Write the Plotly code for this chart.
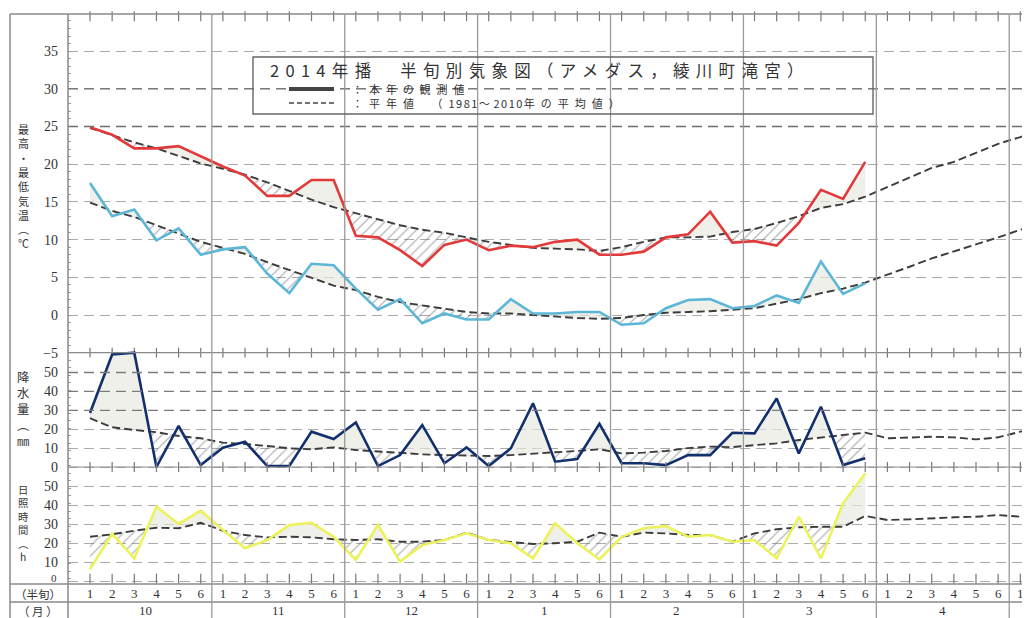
import numpy as np
import plotly.graph_objects as go

# ---------------- data ----------------
months = ['10', '11', '12', '1', '2', '3', '4']
half_labels = ['1', '2', '3', '4', '5', '6'] * 7 + ['1']

tmax_obs = [24.9, 23.9, 22.1, 22.1, 22.4, 21.0, 19.7, 18.5, 15.8, 15.8, 17.9, 17.9,
            10.5, 10.3, 8.6, 6.5, 9.3, 10.0, 8.6, 9.2, 9.0, 9.7, 10.0, 8.0,
            8.0, 8.4, 10.3, 10.7, 13.7, 9.6, 9.8, 9.2, 12.2, 16.6, 15.4, 20.3]
tmax_norm = [24.8, 23.8, 22.9, 22.1, 21.1, 20.1, 19.4, 18.6, 17.6, 16.4, 15.3, 14.3,
             13.5, 12.6, 11.9, 11.3, 10.9, 10.3, 9.7, 9.3, 8.9, 8.8, 8.7, 8.5,
             9.0, 9.7, 10.3, 10.3, 10.4, 11.0, 11.4, 12.2, 13.1, 14.2, 14.7, 15.7,
             17.0, 18.3, 19.5, 20.3, 21.5, 22.7, 23.6, 24.7]
tmin_obs = [17.5, 13.1, 14.0, 9.9, 11.5, 8.0, 8.7, 9.0, 5.5, 2.9, 6.8, 6.6,
            3.5, 0.7, 2.1, -1.1, 0.2, -0.6, -0.6, 2.1, 0.2, 0.2, 0.4, 0.4,
            -1.3, -1.1, 0.9, 2.0, 2.1, 0.9, 1.2, 2.6, 1.6, 7.1, 2.8, 4.2]
tmin_norm = [14.9, 13.8, 13.0, 11.9, 10.9, 9.7, 8.9, 8.1, 7.0, 6.0, 4.9, 3.9,
             3.3, 2.4, 1.7, 1.3, 0.9, 0.4, 0.2, 0.2, 0.0, -0.2, -0.4, -0.5,
             -0.4, 0.0, 0.3, 0.4, 0.5, 0.7, 0.9, 1.5, 2.1, 2.9, 3.5, 4.3,
             5.3, 6.4, 7.5, 8.4, 9.3, 10.3, 11.3, 12.4]
prec_obs = [28.6, 59.5, 60.5, 0.0, 21.7, 1.0, 10.2, 13.4, 0.5, 0.5, 18.7, 14.8,
            23.6, 0.5, 6.3, 22.2, 2.0, 10.4, 0.5, 9.9, 33.7, 2.8, 4.2, 22.8,
            2.0, 2.0, 1.0, 6.3, 6.3, 18.1, 17.8, 36.3, 7.2, 31.9, 1.0, 4.6]
prec_norm = [25.8, 21.0, 19.6, 18.4, 16.4, 15.2, 12.9, 12.2, 11.1, 9.9, 9.4, 10.4,
             9.0, 8.1, 7.2, 6.7, 6.3, 6.2, 5.8, 6.3, 7.2, 7.8, 8.5, 9.4,
             7.2, 7.6, 8.5, 10.0, 10.8, 10.5, 11.6, 12.5, 14.3, 15.7, 16.9, 18.2,
             15.2, 15.5, 16.0, 15.7, 14.6, 15.7, 18.7, 20.6]
sun_obs = [6.2, 24.9, 12.0, 39.3, 30.2, 37.2, 27.0, 17.3, 21.7, 29.6, 30.8, 23.4,
           11.1, 29.6, 10.2, 19.0, 21.7, 25.2, 21.7, 20.0, 12.0, 30.5, 20.0, 11.5,
           23.4, 27.9, 29.1, 23.4, 24.3, 20.8, 21.7, 12.0, 34.0, 12.0, 41.1, 57.0]
sun_norm = [23.4, 24.7, 26.6, 28.2, 27.9, 30.8, 26.6, 24.3, 23.1, 23.4, 23.1, 22.1,
            21.7, 22.1, 20.8, 20.8, 21.7, 25.6, 21.7, 20.8, 19.6, 20.0, 20.8, 25.6,
            23.4, 25.6, 25.2, 24.3, 24.3, 20.8, 25.2, 27.4, 28.4, 28.7, 28.7, 34.4,
            32.3, 32.6, 33.2, 33.7, 34.0, 34.9, 34.0, 33.5]

temp_ticks = [-5, 0, 5, 10, 15, 20, 25, 30, 35]
prec_ticks = [0, 10, 20, 30, 40, 50]
sun_ticks = [0, 10, 20, 30, 40, 50]

# ---------------- layout geometry (reference page pixels) ----------------
OFF = 8                      # browser default body margin
PAGE_W, PAGE_H = 1030, 618
L, T, R, BOT = 68, 14, 1030, 584
PW, PH = R - L, BOT - T
W, H = PAGE_W - OFF, PAGE_H - OFF


def px(p):
    return (p - L) / PW


def py(p):
    return (BOT - p) / PH


X0PIX, DX = 90.0, 22.15
xr = [(L - X0PIX) / DX, (R - X0PIX) / DX]
T0PIX, TS = 315.0, 7.54
P0PIX, PS = 467.0, 1.89
S0PIX, SS = 581.0, 1.89
yr_t = [(T0PIX - BOT) / TS, (T0PIX - T) / TS]
yr_p = [(P0PIX - BOT) / PS, (P0PIX - T) / PS]
yr_s = [(S0PIX - BOT) / SS, (S0PIX - T) / SS]

x_obs = np.arange(len(tmax_obs), dtype=float)
x_norm = np.arange(len(tmax_norm), dtype=float)

fig = go.Figure()


def split_fill(obs, norm):
    obs = np.asarray(obs, float)
    norm = np.asarray(norm, float)[:len(obs)]
    x = np.arange(len(obs), dtype=float)
    xd, od, nd = [x[0]], [obs[0]], [norm[0]]
    for k in range(1, len(obs)):
        d0 = obs[k - 1] - norm[k - 1]
        d1 = obs[k] - norm[k]
        if d0 * d1 < 0:
            t = d0 / (d0 - d1)
            yc = obs[k - 1] + t * (obs[k] - obs[k - 1])
            xd.append(x[k - 1] + t)
            od.append(yc)
            nd.append(yc)
        xd.append(x[k])
        od.append(obs[k])
        nd.append(norm[k])
    return np.array(xd), np.array(od), np.array(nd)


def add_fills(obs, norm, ya):
    xd, od, nd = split_fill(obs, norm)
    base = dict(mode='lines', line=dict(width=0), hoverinfo='skip',
                showlegend=False, yaxis=ya)
    fig.add_trace(go.Scatter(x=xd, y=nd, **base))
    fig.add_trace(go.Scatter(x=xd, y=np.maximum(od, nd), fill='tonexty',
                             fillcolor='rgba(232,232,224,0.65)', **base))
    fig.add_trace(go.Scatter(x=xd, y=nd, **base))
    fig.add_trace(go.Scatter(x=xd, y=np.minimum(od, nd), fill='tonexty',
                             fillcolor='rgba(0,0,0,0)',
                             fillpattern=dict(shape='/', fgcolor='#555555',
                                              bgcolor='rgba(0,0,0,0)',
                                              size=7, solidity=0.17),
                             **base))


add_fills(tmax_obs, tmax_norm, 'y')
add_fills(tmin_obs, tmin_norm, 'y')
add_fills(prec_obs, prec_norm, 'y2')
add_fills(sun_obs, sun_norm, 'y3')

# normal (dashed)
for norm, ya in [(tmax_norm, 'y'), (tmin_norm, 'y'), (prec_norm, 'y2'), (sun_norm, 'y3')]:
    fig.add_trace(go.Scatter(x=x_norm, y=norm, yaxis=ya, mode='lines',
                             line=dict(color='#3c3c3c', width=1.9, dash='8px,4px'),
                             showlegend=False, hoverinfo='skip'))

# observed (solid)
for obs, ya, col in [(tmax_obs, 'y', '#e23a3a'), (tmin_obs, 'y', '#5cb6d8'),
                     (prec_obs, 'y2', '#13306e'), (sun_obs, 'y3', '#eef25a')]:
    fig.add_trace(go.Scatter(x=x_obs, y=obs, yaxis=ya, mode='lines',
                             line=dict(color=col, width=2.6),
                             showlegend=False, hoverinfo='skip'))

# small half-month tick marks on the frame lines
tick_rows = [('y', yr_t[1] - 0.3), ('y', -5), ('y2', 0), ('y3', 1.3)]
for ya, yv in tick_rows:
    fig.add_trace(go.Scatter(x=x_norm[:43], y=[yv] * 43, yaxis=ya, mode='markers',
                             marker=dict(symbol='line-ns', size=7,
                                         line=dict(color='#777', width=1.2)),
                             cliponaxis=False, showlegend=False, hoverinfo='skip'))

# ---------------- shapes ----------------
shapes = []
for v in [30, 25]:
    shapes.append(dict(type='line', xref='paper', yref='y', x0=0, x1=1, y0=v, y1=v,
                       line=dict(color='#6e6e6e', width=1.3, dash='10px,6px')))
for v in [50, 40, 30]:
    shapes.append(dict(type='line', xref='paper', yref='y2', x0=0, x1=1, y0=v, y1=v,
                       line=dict(color='#7a7a7a', width=1.3, dash='10px,6px')))
shapes.append(dict(type='line', xref='paper', yref='y', x0=0, x1=1, y0=-5, y1=-5,
                   line=dict(color='#8a8a8a', width=1.2)))
shapes.append(dict(type='line', xref='paper', yref='y2', x0=0, x1=1, y0=0, y1=0,
                   line=dict(color='#8a8a8a', width=1.2)))
for yp in [T, BOT, 602]:
    shapes.append(dict(type='line', xref='paper', yref='paper', x0=px(10), x1=1,
                       y0=py(yp), y1=py(yp), line=dict(color='#8a8a8a', width=1.3)))
for xp in [10, L]:
    shapes.append(dict(type='line', xref='paper', yref='paper', x0=px(xp), x1=px(xp),
                       y0=py(PAGE_H), y1=py(T), line=dict(color='#888', width=1.5)))
for k in range(len(months)):
    xb = 5.5 + 6 * k
    shapes.append(dict(type='line', xref='x', yref='paper', x0=xb, x1=xb,
                       y0=py(PAGE_H), y1=py(T), line=dict(color='#9a9a9a', width=1.3)))
shapes.append(dict(type='rect', xref='paper', yref='paper', x0=px(253), x1=px(873),
                   y0=py(114), y1=py(57), line=dict(color='#666', width=1.4)))
shapes.append(dict(type='line', xref='paper', yref='paper', x0=px(289), x1=px(334),
                   y0=py(89), y1=py(89), line=dict(color='#444', width=4)))
shapes.append(dict(type='line', xref='paper', yref='paper', x0=px(289), x1=px(334),
                   y0=py(103), y1=py(103), line=dict(color='#444', width=1.3, dash='5px,3px')))

# ---------------- annotations ----------------
ann = []
jp = 'Noto Sans CJK JP'
serif = 'Liberation Serif'


def spaced(s, sp):
    return '<span style="letter-spacing:%.1fpx">%s</span>' % (sp, s)


ann.append(dict(text=spaced('2014年播　半旬別気象図（アメダス，綾川町滝宮）', 6.3),
                xref='paper', yref='paper',
                x=px(268), y=py(70), xanchor='left', yanchor='middle', showarrow=False,
                font=dict(family=jp, size=16.5, color='#333')))

# two legend lines in one stacked annotation
leg_fs = 11
leg1 = spaced('：本年の観測値', 5.9)
leg2 = (spaced('：平年値　（', 6.0) + spaced('1981', 1.5) + spaced('～', 3.5)
        + spaced('2010', 1.5) + spaced('年の平均値）', 6.0))
ann.append(dict(text=leg1 + '<br>' + leg2, xref='paper', yref='paper',
                x=px(350), y=py(96.2), xanchor='left', yanchor='middle', showarrow=False,
                align='left', font=dict(family=jp, size=leg_fs, color='#333')))

# vertical axis titles (one stacked annotation each)
vlabels = [
    (list('最高・最低気温') + ['︵', '℃'], 128, 11),
    (['降', '水', '量', '︵', '㎜'], 376, 12.3),
    (['日', '照', '時', '間', '︵', 'h'], 489, 10.3),
]
for chars, y0, fs in vlabels:
    ann.append(dict(text='<br>'.join(chars), xref='paper', yref='paper', x=px(23),
                    y=py(y0 - 0.65 * fs * 1.3), xanchor='center', yanchor='top',
                    showarrow=False, align='center',
                    font=dict(family=jp, size=fs, color='#333')))

# sunshine "0" label drawn separately (small, tucked above the half-month row)
ann.append(dict(text='0', xref='paper', yref='y3', x=px(59), y=sun_ticks[0] + 1.5,
                xanchor='right', yanchor='middle', showarrow=False,
                font=dict(family=serif, size=11, color='#333')))

for k, m in enumerate(months):
    ann.append(dict(text=m, xref='x', yref='paper', x=2.5 + 6 * k, y=py(610),
                    xanchor='center', yanchor='middle', showarrow=False,
                    font=dict(family=serif, size=13, color='#333')))
ann.append(dict(text='（半旬）', xref='paper', yref='paper', x=px(38), y=py(594),
                xanchor='center', yanchor='middle', showarrow=False,
                font=dict(family=jp, size=11.5, color='#333')))
ann.append(dict(text='（ 月 ）', xref='paper', yref='paper', x=px(38), y=py(611),
                xanchor='center', yanchor='middle', showarrow=False,
                font=dict(family=jp, size=11.5, color='#333')))

axis_common = dict(showline=False, zeroline=False, ticks='', showgrid=True,
                   gridcolor='#ababab', gridwidth=1.1, griddash='10px,6px',
                   tickfont=dict(family=serif, size=14, color='#333'),
                   ticklabelstandoff=9, fixedrange=True)

fig.update_layout(
    width=W, height=H,
    margin=dict(l=L - OFF, r=PAGE_W - R, t=T - OFF, b=PAGE_H - BOT, pad=0),
    paper_bgcolor='white', plot_bgcolor='white',
    showlegend=False,
    xaxis=dict(range=xr, tickmode='array', tickvals=list(range(43)), ticktext=half_labels,
               showgrid=False, zeroline=False, showline=False, ticks='',
               tickfont=dict(family=serif, size=13, color='#333'), ticklabelstandoff=0),
    yaxis=dict(range=yr_t, tickmode='array', tickvals=temp_ticks,
               minor=dict(ticks='inside', ticklen=3, dtick=1, tickcolor='#999', tickwidth=1),
               **axis_common),
    yaxis2=dict(range=yr_p, tickmode='array', tickvals=prec_ticks, overlaying='y',
                side='left', anchor='x', **axis_common),
    yaxis3=dict(range=yr_s, tickmode='array', tickvals=sun_ticks,
                ticktext=[''] + [str(v) for v in sun_ticks[1:]], overlaying='y',
                side='left', anchor='x', **axis_common),
    shapes=shapes, annotations=ann,
)

fig.write_html('out.html')
